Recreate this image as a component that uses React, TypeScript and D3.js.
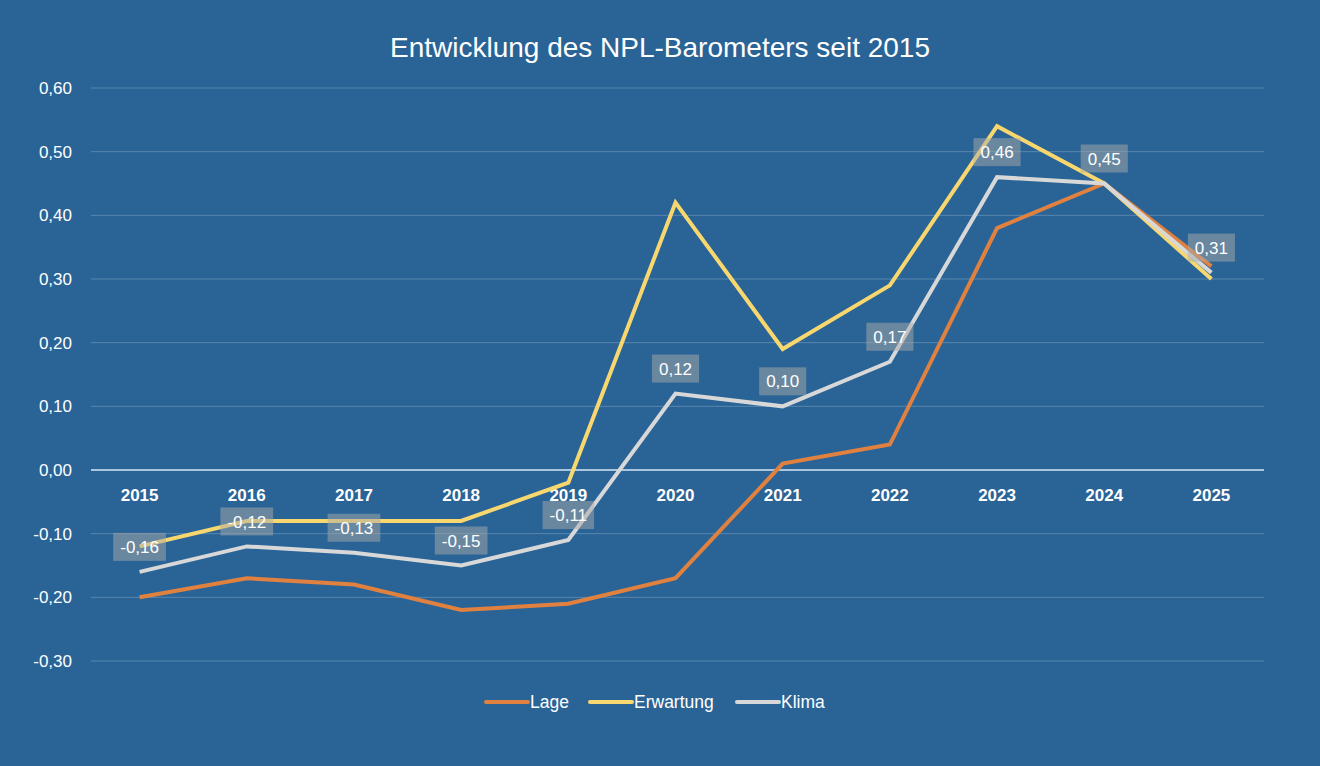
import React, { useRef, useEffect } from 'react';
import * as d3 from 'd3';

const years: string[] = ['2015', '2016', '2017', '2018', '2019', '2020', '2021', '2022', '2023', '2024', '2025'];
const lage: number[] = [-0.20, -0.17, -0.18, -0.22, -0.21, -0.17, 0.01, 0.04, 0.38, 0.45, 0.32];
const erwartung: number[] = [-0.12, -0.08, -0.08, -0.08, -0.02, 0.42, 0.19, 0.29, 0.54, 0.45, 0.30];
const klima: number[] = [-0.16, -0.12, -0.13, -0.15, -0.11, 0.12, 0.10, 0.17, 0.46, 0.45, 0.31];
const yTicks: number[] = [-0.3, -0.2, -0.1, 0, 0.1, 0.2, 0.3, 0.4, 0.5, 0.6];

const series = [
  { name: 'Lage', values: lage, color: '#e0813f' },
  { name: 'Erwartung', values: erwartung, color: '#f8d86e' },
  { name: 'Klima', values: klima, color: '#d8d8d8' },
];

const fmt = (v: number) => d3.format('.2f')(v).replace('.', ',').replace('−', '-');

const App: React.FC = () => {
  const svgRef = useRef<SVGSVGElement | null>(null);

  const width = 1320;
  const height = 766;
  const gridLeft = 91;
  const gridRight = 1264;

  useEffect(() => {
    if (!svgRef.current) {
      return;
    }
    document.body.style.margin = '0';
    const font = '"Liberation Sans", Arial, Helvetica, sans-serif';

    const svg = d3.select(svgRef.current)
      .attr('width', width)
      .attr('height', height)
      .attr('viewBox', [0, 0, width, height].join(' '))
      .style('display', 'block')
      .style('font-family', font);
    svg.selectAll('*').remove();

    svg.append('rect')
      .attr('width', width)
      .attr('height', height)
      .attr('fill', '#2a6496');

    // scales
    const x = d3.scaleBand<string>()
      .domain(years)
      .range([86, 1265]);

    const y = d3.scaleLinear()
      .domain([-0.3, 0.6])
      .range([661, 88]);

    const cx = (i: number) => (x(years[i]) ?? 0) + x.bandwidth() / 2;

    // title
    svg.append('text')
      .attr('x', width / 2)
      .attr('y', 57)
      .attr('text-anchor', 'middle')
      .attr('fill', '#ffffff')
      .attr('font-size', 28)
      .text('Entwicklung des NPL-Barometers seit 2015');

    // gridlines
    yTicks.forEach(t => {
      svg.append('line')
        .attr('x1', gridLeft)
        .attr('x2', gridRight)
        .attr('y1', y(t))
        .attr('y2', y(t))
        .attr('stroke', t === 0 ? '#d6e8f7' : 'rgba(255,255,255,0.22)')
        .attr('stroke-width', t === 0 ? 1.5 : 1);
    });

    // y-axis
    svg.append('g')
      .attr('transform', `translate(${gridLeft},0)`)
      .call(d3.axisLeft(y).tickValues(yTicks).tickFormat(d => fmt(d as number)).tickSize(0).tickPadding(19))
      .call(g => g.select('.domain').remove())
      .call(g => g.selectAll('text')
        .attr('fill', '#ffffff')
        .attr('font-size', 17)
        .attr('font-family', font));

    // category labels below the zero line
    svg.append('g')
      .attr('transform', `translate(0,${y(0)})`)
      .call(d3.axisBottom(x).tickSize(0).tickPadding(19))
      .call(g => g.select('.domain').remove())
      .call(g => g.selectAll('text')
        .attr('fill', '#ffffff')
        .attr('font-size', 17)
        .attr('font-weight', 'bold')
        .attr('font-family', font));

    // lines
    const line = d3.line<number>()
      .x((_, i) => cx(i))
      .y(d => y(d));

    series.forEach(s => {
      svg.append('path')
        .datum(s.values)
        .attr('fill', 'none')
        .attr('stroke', s.color)
        .attr('stroke-width', 4)
        .attr('stroke-linejoin', 'miter')
        .attr('d', line);
    });

    // Klima data labels
    const labels = svg.append('g');
    klima.forEach((v, i) => {
      const px = cx(i);
      const py = y(v) - 25;
      const g = labels.append('g').attr('transform', `translate(${px},${py})`);
      const rect = g.append('rect')
        .attr('fill', 'rgba(170,170,170,0.5)');
      const text = g.append('text')
        .attr('text-anchor', 'middle')
        .attr('dy', '0.36em')
        .attr('fill', '#ffffff')
        .attr('font-size', 17)
        .text(fmt(v));
      const tw = (text.node() as SVGTextElement).getComputedTextLength();
      rect
        .attr('x', -tw / 2 - 7)
        .attr('y', -14)
        .attr('width', tw + 14)
        .attr('height', 28);
    });

    // legend
    const legendX = [486, 590, 737];
    series.forEach((s, i) => {
      const lg = svg.append('g').attr('transform', `translate(${legendX[i]},702)`);
      lg.append('line')
        .attr('x1', 0)
        .attr('x2', 42)
        .attr('stroke', s.color)
        .attr('stroke-width', 4)
        .attr('stroke-linecap', 'round');
      lg.append('text')
        .attr('x', 44)
        .attr('dy', '0.36em')
        .attr('fill', '#ffffff')
        .attr('font-size', 17.5)
        .text(s.name);
    });
  }, [svgRef]);

  return (
    <div>
      <svg ref={svgRef} />
    </div>
  );
};

export default App;
